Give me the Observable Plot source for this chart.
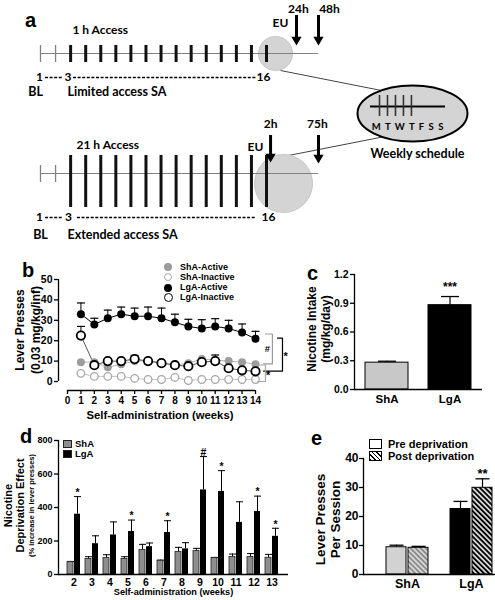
<!DOCTYPE html>
<html>
<head>
<meta charset="utf-8">
<script src="https://cdn.jsdelivr.net/npm/d3@7"></script>
<script src="https://cdn.jsdelivr.net/npm/@observablehq/plot@0.6"></script>
<style>
  html, body { margin: 0; padding: 0; background: #fff; }
  #fig { position: relative; width: 495px; height: 600px; overflow: hidden; background: #fff;
         font-family: "Liberation Sans", Arial, sans-serif; font-weight: bold; color: #000; }
  #fig .abs { position: absolute; white-space: nowrap; }
</style>
</head>
<body>
<div id="fig"></div>
<script>
// ======================= DATA =======================
// Panel a (schematic)
const aSessionBaseline = [1, 2];
const aSessionSA = [3, 4, 5, 6, 7, 8, 9, 10, 11, 12, 13, 14, 15, 16];
const aSessionLabels = ["1", "3", "16"];
const aAccessLabels = ["1 h Access", "21 h Access"];
const aProgramLabels = ["Limited access SA", "Extended access SA"];
const aBaselineLabel = "BL";
const aEULabel = "EU";
const aArrowLabels = [["24h", "48h"], ["2h", "75h"]];
const aWeekDays = "M T W T F S S";
const aWeekDayTicks = [1, 2, 3, 4, 5];
const aWeeklyTitle = "Weekly schedule";

// Panel b
const bWeeks = [1, 2, 3, 4, 5, 6, 7, 8, 9, 10, 11, 12, 13, 14];
const bShaActive     = [9.5, 9.5, 7, 8.5, 10, 10, 9.5, 8, 9, 11, 10.5, 10, 9.5, 8.5];
const bShaInactive   = [4, 2.5, 2.5, 2.5, 1.5, 1, 1, 2, 0.5, 1, 1, 1, 1, 1];
const bLgaActive     = [33, 28, 31, 33, 32, 32, 31, 29, 27, 26, 27, 26, 24, 21];
const bLgaActiveUp   = [38.5, 31, 35, 36.5, 36, 36.5, 36, 33, 30.5, 30.3, 30.8, 30, 28.2, 24.6];
const bLgaInactive   = [22.5, 8, 10, 10, 11, 10, 9, 8, 7.5, 9.5, 10, 6.5, 5.5, 5];
const bLgaInactiveUp = [27, 9.5, 11, 11, 12.8, 11.3, 10, 9, 8.5, 10.5, 13, 7.5, 6.5, 6];
const bSeries = ["ShA-Active", "ShA-Inactive", "LgA-Active", "LgA-Inactive"];
const bXTicks = [0, 1, 2, 3, 4, 5, 6, 7, 8, 9, 10, 11, 12, 13, 14];
const bYTicks = [0, 10, 20, 30, 40, 50];
const bBracketLabels = ["#", "*", "*"];
const bBracketTop    = [23.3, 21.3, 8.1];
const bBracketBottom = [8.6, 5.1, 0];

// Panel c
const cGroups = ["ShA", "LgA"];
const cMean  = [0.28, 0.88];
const cUpper = [0.295, 0.97];
const cSig   = ["", "***"];
const cYTicks = [0, 0.3, 0.6, 0.9, 1.2];

// Panel d
const dWeeks = ["2", "3", "4", "5", "6", "7", "8", "9", "10", "11", "12", "13"];
const dSha   = [74, 92, 98, 93, 146, 82, 135, 140, 98, 105, 105, 100];
const dShaUp = [78, 106, 118, 106, 180, 86, 162, 156, 102, 122, 125, 120];
const dLga   = [360, 184, 236, 257, 166, 251, 153, 505, 496, 311, 376, 228];
const dLgaUp = [465, 231, 314, 325, 188, 321, 190, 704, 620, 434, 468, 276];
const dSig   = ["*", "", "", "*", "", "*", "", "#", "*", "", "*", "*"];
const dYTicks = [0, 200, 400, 600, 800];
const dLegend = ["ShA", "LgA"];

// Panel e
const eGroups = ["ShA", "LgA"];
const ePre    = [9.4, 22.6];
const ePreUp  = [10.1, 25.2];
const ePost   = [9.2, 29.9];
const ePostUp = [9.7, 33];
const ePostSig = ["", "**"];
const eYTicks = [0, 10, 20, 30, 40];
const eLegend = ["Pre deprivation", "Post deprivation"];

// ======================= HELPERS =======================
const fig = document.getElementById("fig");
const FONT = '"Liberation Sans", Arial, Helvetica, sans-serif';
const baseStyle = {fontFamily: FONT, fontWeight: "bold", background: "transparent", overflow: "visible", color: "#000"};
function place(node, left, top) {
  node.style.position = "absolute"; node.style.left = left + "px"; node.style.top = top + "px";
  fig.appendChild(node); return node;
}
function htmlText(text, left, top, size, extra = {}) {
  const d = document.createElement("div");
  d.className = "abs"; d.textContent = text;
  Object.assign(d.style, {left: left + "px", top: top + "px", fontSize: size + "px", lineHeight: size + "px"}, extra);
  fig.appendChild(d); return d;
}
function htmlBox(left, top, w, h, css) {
  const d = document.createElement("div"); d.className = "abs";
  Object.assign(d.style, {left: left + "px", top: top + "px", width: w + "px", height: h + "px", boxSizing: "border-box"}, css);
  fig.appendChild(d); return d;
}
// horizontal error-bar cap
const capSymbol = {draw(ctx, size) { const r = Math.sqrt(size / Math.PI); ctx.moveTo(-r, 0); ctx.lineTo(r, 0); }};
// ellipse symbol (aspect ry/rx)
const ELLIPSE_ASPECT = 0.51;
const ellipseSymbol = {draw(ctx, size) {
  const rx = Math.sqrt(size / Math.PI), ry = rx * ELLIPSE_ASPECT, k = 0.5523;
  ctx.moveTo(rx, 0);
  ctx.bezierCurveTo(rx, k * ry, k * rx, ry, 0, ry);
  ctx.bezierCurveTo(-k * rx, ry, -rx, k * ry, -rx, 0);
  ctx.bezierCurveTo(-rx, -k * ry, -k * rx, -ry, 0, -ry);
  ctx.bezierCurveTo(k * rx, -ry, rx, -k * ry, rx, 0);
  ctx.closePath();
}};

// ======================= PANEL A =======================
// schematic layout: x in session units, y in schematic rows (px-like)
const rowsIdx = [0, 1];
const aLineY = [53, 173];
const aLineEnd = 19.45;
const aThin = [[45, 62], [165, 182]];
const aThick = [[45, 62], [155, 207]];
const aCircles = [{x: 16.6, y: 53, r: 17}, {x: 17.13, y: 183, r: 29}];
const aArrowX = [[17.99, 19.45], [16.27, 19.45]];
const aArrowTop = [15, 135];
const aArrowTip = [[45, 45], [162, 163]];
const aArrowLabelX = [[18.12, 20.18], [16.27, 19.38]];
const aArrowLabelY = [9, 124];
const aEUX = [16.93, 15.27], aEUY = [23, 147];
const aAccessX = [3.12, 3.39], aAccessY = [30, 145];
const aNumX = [[0.93, 2.83, 15.8], [0.93, 2.86, 16.13]], aNumY = [77, 217];
const aDash = [[[1.33, 2.53], [3.19, 15.34]], [[1.33, 2.53], [3.45, 15.3]]];
const aBLX = [0.67, 1.0], aProgX = [2.79, 2.79], aProgY = [91, 234];
const aWeekly = {x: 25.69, y: 113, r: 55, lineX1: 22.9, lineX2: 27.88, lineY: 106,
                 tickX0: 23.5, tickStep: 0.53, tickY1: 95, tickY2: 116, daysX: 25.4, daysY: 126,
                 titleX: 26.02, titleY: 153};
const aConnectors = [{x1: 16.93, y1: 70, x2: 24.3, y2: 92}, {x1: 17.46, y1: 155, x2: 24.2, y2: 135}];
const HEAD_R = 3.8, HEAD_OFF = 5.9;

const thinTicks = rowsIdx.flatMap(i => aSessionBaseline.map(s => ({s, y1: aThin[i][0], y2: aThin[i][1]})));
const thickTicks = rowsIdx.flatMap(i => aSessionSA.map(s => ({s, y1: aThick[i][0], y2: aThick[i][1]})));
const arrows = rowsIdx.flatMap(i => [0, 1].map(j => ({x: aArrowX[i][j], top: aArrowTop[i], tip: aArrowTip[i][j],
  label: aArrowLabels[i][j], lx: aArrowLabelX[i][j], ly: aArrowLabelY[i]})));
const numLabels = rowsIdx.flatMap(i => aSessionLabels.map((t, k) => ({text: t, x: aNumX[i][k], y: aNumY[i]})));
const dashSegs = rowsIdx.flatMap(i => aDash[i].map(([a, b]) => ({x1: a, x2: b, y: aNumY[i]})));
const dayTicks = aWeekDayTicks.map((d, k) => ({x: aWeekly.tickX0 + k * aWeekly.tickStep}));
const aFont = {fontFamily: "Lato", fontWeight: "bold"};

const A = Plot.plot({
  width: 495, height: 250, margin: 0,
  x: {domain: [1, 16], range: [40, 266], axis: null},
  y: {domain: [0, 250], range: [0, 250], axis: null},
  r: {type: "identity"},
  style: baseStyle,
  marks: [
    Plot.link(aConnectors, {x1: "x1", y1: "y1", x2: "x2", y2: "y2", stroke: "#444", strokeWidth: 1}),
    Plot.dot(aCircles, {x: "x", y: "y", r: "r", fill: "#d4d4d4", stroke: "#c6c6c6", strokeWidth: 1}),
    Plot.ruleY(aLineY, {y: d => d, x1: 1, x2: aLineEnd, stroke: "#808080", strokeWidth: 1.2}),
    Plot.ruleX(thinTicks, {x: "s", y1: "y1", y2: "y2", stroke: "#808080", strokeWidth: 1.3}),
    Plot.ruleX(thickTicks, {x: "s", y1: "y1", y2: "y2", stroke: "#111", strokeWidth: 3}),
    Plot.ruleX(arrows, {x: "x", y1: "top", y2: d => d.tip - 7, stroke: "#000", strokeWidth: 3}),
    Plot.dot(arrows, {x: "x", y: d => d.tip - HEAD_OFF, symbol: "triangle", r: HEAD_R, rotate: 180, fill: "#000"}),
    Plot.text(arrows, {x: "lx", y: "ly", text: "label", fontSize: 12, ...aFont}),
    Plot.text(rowsIdx, {x: i => aEUX[i], y: i => aEUY[i], text: () => aEULabel, fontSize: 12, ...aFont}),
    Plot.text(rowsIdx, {x: i => aAccessX[i], y: i => aAccessY[i], text: i => aAccessLabels[i], textAnchor: "start", fontSize: 12, ...aFont}),
    Plot.text(numLabels, {x: "x", y: "y", text: "text", fontSize: 12, ...aFont}),
    Plot.ruleY(dashSegs, {y: "y", x1: "x1", x2: "x2", stroke: "#000", strokeWidth: 1.4, strokeDasharray: "3,1.6"}),
    Plot.text(rowsIdx, {x: i => aBLX[i], y: i => aProgY[i], text: () => aBaselineLabel, fontSize: 12.5, ...aFont}),
    Plot.text(rowsIdx, {x: i => aProgX[i], y: i => aProgY[i], text: i => aProgramLabels[i], textAnchor: "start", fontSize: 12.5, ...aFont}),
    // weekly schedule
    Plot.dot([aWeekly], {x: "x", y: "y", r: "r", symbol: ellipseSymbol, fill: "#d4d4d4", stroke: "#000", strokeWidth: 2}),
    Plot.ruleY([aWeekly], {y: "lineY", x1: "lineX1", x2: "lineX2", stroke: "#000", strokeWidth: 2}),
    Plot.ruleX(dayTicks, {x: "x", y1: aWeekly.tickY1, y2: aWeekly.tickY2, stroke: "#333", strokeWidth: 1.6}),
    Plot.text([aWeekDays], {x: aWeekly.daysX, y: aWeekly.daysY, fontSize: 9.5, ...aFont}),
    Plot.text([aWeeklyTitle], {x: aWeekly.titleX, y: aWeekly.titleY, fontSize: 12.5, ...aFont})
  ]
});
d3.select(A).selectAll("text").filter(function() { return this.textContent === aWeekDays; })
  .style("letter-spacing", "1.1px");
place(A, 0, 0);

// ======================= PANEL B =======================
const B_XMIN = -0.67, B_YMIN = -4.4;
const bRows = bWeeks.map((w, i) => ({week: w, shaA: bShaActive[i], shaI: bShaInactive[i],
  lgaA: bLgaActive[i], lgaAUp: bLgaActiveUp[i], lgaI: bLgaInactive[i], lgaIUp: bLgaInactiveUp[i]}));
// bracket geometry (x in weeks)
const bBracketX = [15.26, 16.01, 14.74];
const bBracketArmTop = [14.74, 15.64, 14.15];
const bBracketArmBottom = [14.6, 14.6, 14.15];
const bBracketLabelX = [14.88, 16.25, 14.95];
const bBracketColor = ["#9a9a9a", "#000", "#a8a8a8"];
const bracketMarks = bBracketLabels.flatMap((lab, i) => {
  const pts = [[bBracketArmTop[i], bBracketTop[i]], [bBracketX[i], bBracketTop[i]],
               [bBracketX[i], bBracketBottom[i]], [bBracketArmBottom[i], bBracketBottom[i]]];
  return [
    Plot.line(pts, {x: d => d[0], y: d => d[1], stroke: bBracketColor[i], strokeWidth: 1.2}),
    Plot.text([lab], {x: bBracketLabelX[i], y: (bBracketTop[i] + bBracketBottom[i]) / 2,
      fontSize: lab === "#" ? 9.5 : 11, dy: lab === "#" ? 0 : 2, fill: "black"})
  ];
});
const B = Plot.plot({
  width: 300, height: 175, marginLeft: 58, marginRight: 45, marginTop: 29, marginBottom: 35,
  x: {domain: [B_XMIN, 14]},
  y: {domain: [B_YMIN, 50]},
  style: baseStyle,
  marks: [
    Plot.ruleX([B_XMIN], {y1: 0, y2: 50, strokeWidth: 1.3}),
    Plot.ruleY([B_YMIN], {x1: 0, x2: 14, strokeWidth: 1.3}),
    Plot.axisY({ticks: bYTicks, tickSize: 4, tickPadding: 2, fontSize: 10.5, label: null, strokeWidth: 1.3}),
    Plot.axisX({ticks: bXTicks, tickSize: 4, tickPadding: 2, fontSize: 10, label: null, strokeWidth: 1.3}),
    Plot.line(bRows, {x: "week", y: "shaI", stroke: "#c4c4c4", strokeWidth: 1}),
    Plot.line(bRows, {x: "week", y: "shaA", stroke: "#b4b4b4", strokeWidth: 1}),
    Plot.line(bRows, {x: "week", y: "lgaI", stroke: "#555", strokeWidth: 1}),
    Plot.line(bRows, {x: "week", y: "lgaA", stroke: "#000", strokeWidth: 1}),
    Plot.ruleX(bRows, {x: "week", y1: "lgaA", y2: "lgaAUp", stroke: "#000", strokeWidth: 1}),
    Plot.dot(bRows, {x: "week", y: "lgaAUp", symbol: capSymbol, r: 4, stroke: "#000", fill: "none", strokeWidth: 1.2}),
    Plot.ruleX(bRows, {x: "week", y1: "lgaI", y2: "lgaIUp", stroke: "#000", strokeWidth: 1}),
    Plot.dot(bRows, {x: "week", y: "lgaIUp", symbol: capSymbol, r: 4, stroke: "#000", fill: "none", strokeWidth: 1.2}),
    Plot.dot(bRows, {x: "week", y: "shaI", r: 3.8, fill: "#fff", stroke: "#a8a8a8", strokeWidth: 1.3}),
    Plot.dot(bRows, {x: "week", y: "shaA", r: 4, fill: "#9c9c9c"}),
    Plot.dot(bRows, {x: "week", y: "lgaI", r: 4.2, fill: "#fff", stroke: "#000", strokeWidth: 1.8}),
    Plot.dot(bRows, {x: "week", y: "lgaA", r: 4, fill: "#000"}),
    ...bracketMarks,
    Plot.text(["Self-administration (weeks)"], {frameAnchor: "bottom", lineAnchor: "middle", textAnchor: "middle", dx: 3, dy: 25, fontSize: 11.3}),
    Plot.text(["Lever Presses"], {frameAnchor: "left", textAnchor: "middle", lineAnchor: "middle", dx: -38, dy: -5, rotate: -90, fontSize: 12}),
    Plot.text(["(0.03 mg/kg/inf)"], {frameAnchor: "left", textAnchor: "middle", lineAnchor: "middle", dx: -22, dy: -5, rotate: -90, fontSize: 12})
  ]
});
place(B, 0, 250);

// ======================= PANEL C =======================
const cRows = cGroups.map((g, i) => ({group: g, mean: cMean[i], upper: cUpper[i], sig: cSig[i]}));
const cFill = {ShA: "#c8c8c8", LgA: "#000"};
const C = Plot.plot({
  width: 195, height: 175, marginLeft: 54, marginRight: 13, marginTop: 24, marginBottom: 36,
  x: {type: "band", domain: cGroups, range: [65, 171], paddingInner: 0.3175, paddingOuter: 0},
  y: {domain: [0, 1.2]},
  color: {type: "identity"},
  style: baseStyle,
  marks: [
    Plot.ruleX(cRows, {x: "group", y1: "mean", y2: "upper", stroke: "#000", strokeWidth: 1.2}),
    Plot.dot(cRows, {x: "group", y: "upper", symbol: capSymbol, r: 9, stroke: "#000", fill: "none", strokeWidth: 1.3}),
    Plot.barY(cRows, {x: "group", y: "mean", fill: d => cFill[d.group], stroke: "#000", strokeWidth: 1}),
    Plot.text(cRows, {x: "group", y: "upper", text: "sig", dy: -9, fontSize: 12, fill: "black"}),
    Plot.frame({anchor: "left", strokeWidth: 1.3}),
    Plot.ruleY([0], {strokeWidth: 1.3}),
    Plot.axisY({ticks: cYTicks, tickFormat: d3.format(".1f"), tickSize: 4, tickPadding: 2, fontSize: 10.5, label: null, strokeWidth: 1.3}),
    Plot.axisX({tickSize: 0, tickPadding: 5, fontSize: 11.5, label: null}),
    Plot.text(["Nicotine Intake"], {frameAnchor: "left", textAnchor: "middle", lineAnchor: "middle", dx: -42, dy: -3, rotate: -90, fontSize: 12}),
    Plot.text(["(mg/kg/day)"], {frameAnchor: "left", textAnchor: "middle", lineAnchor: "middle", dx: -28, dy: -3, rotate: -90, fontSize: 12})
  ]
});
place(C, 300, 250);

// ======================= PANEL D =======================
const dRows = dWeeks.map((w, i) => ({week: w, sha: dSha[i], shaUp: dShaUp[i], lga: dLga[i], lgaUp: dLgaUp[i], sig: dSig[i]}));
const D_HALF = 3.5;
const D = Plot.plot({
  width: 300, height: 175, marginLeft: 58, marginRight: 12, marginTop: 15, marginBottom: 26,
  x: {type: "band", domain: dWeeks, range: [61.5, 283.5], paddingInner: 0.26, paddingOuter: 0},
  y: {domain: [0, 800]},
  style: baseStyle,
  marks: [
    Plot.ruleX(dRows, {x: "week", y1: "sha", y2: "shaUp", dx: -D_HALF, stroke: "#000", strokeWidth: 1}),
    Plot.dot(dRows, {x: "week", y: "shaUp", dx: -D_HALF, symbol: capSymbol, r: 3.5, stroke: "#000", fill: "none", strokeWidth: 1}),
    Plot.ruleX(dRows, {x: "week", y1: "lga", y2: "lgaUp", dx: D_HALF, stroke: "#000", strokeWidth: 1}),
    Plot.dot(dRows, {x: "week", y: "lgaUp", dx: D_HALF, symbol: capSymbol, r: 3.5, stroke: "#000", fill: "none", strokeWidth: 1}),
    Plot.barY(dRows, {x: "week", y: "sha", insetRight: 2 * D_HALF, fill: "#8e8e8e", stroke: "#222", strokeWidth: 0.8}),
    Plot.barY(dRows, {x: "week", y: "lga", insetLeft: 2 * D_HALF, fill: "#000"}),
    Plot.text(dRows, {x: "week", y: "lgaUp", text: "sig", dx: D_HALF, dy: -4, fontSize: 10.5, fill: "black"}),
    Plot.frame({anchor: "left", strokeWidth: 1.3}),
    Plot.ruleY([0], {strokeWidth: 1.3}),
    Plot.axisY({ticks: dYTicks, tickSize: 4, tickPadding: 2, fontSize: 9, label: null, strokeWidth: 1.3}),
    Plot.axisX({tickSize: 0, tickPadding: 4, fontSize: 10.5, label: null}),
    Plot.text(["Self-administration (weeks)"], {frameAnchor: "bottom", lineAnchor: "middle", textAnchor: "middle", dy: 18, fontSize: 9.2}),
    Plot.text(["Nicotine"], {frameAnchor: "left", textAnchor: "middle", lineAnchor: "middle", dx: -50, dy: -2, rotate: -90, fontSize: 11}),
    Plot.text(["Deprivation Effect"], {frameAnchor: "left", textAnchor: "middle", lineAnchor: "middle", dx: -38, dy: -2, rotate: -90, fontSize: 11}),
    Plot.text(["(% increase in lever presses)"], {frameAnchor: "left", textAnchor: "middle", lineAnchor: "middle", dx: -27, dy: -2, rotate: -90, fontSize: 7.5})
  ]
});
place(D, 0, 425);

// ======================= PANEL E =======================
const eRows = eGroups.map((g, i) => ({group: g, pre: ePre[i], preUp: ePreUp[i], post: ePost[i], postUp: ePostUp[i], sig: ePostSig[i]}));
const ePreFill = {ShA: "#d2d2d2", LgA: "#000"};
const ePostFill = {ShA: "url(#hatchGray)", LgA: "url(#hatchBlack)"};
const E_OFF = 11;
const E = Plot.plot({
  width: 195, height: 175, marginLeft: 63, marginRight: 0, marginTop: 33, marginBottom: 26,
  x: {type: "band", domain: eGroups, range: [86, 192], paddingInner: 0.344, paddingOuter: 0},
  y: {domain: [0, 40]},
  color: {type: "identity"},
  style: baseStyle,
  marks: [
    Plot.ruleX(eRows, {x: "group", y1: "pre", y2: "preUp", dx: -E_OFF, stroke: "#000", strokeWidth: 1.2}),
    Plot.dot(eRows, {x: "group", y: "preUp", dx: -E_OFF, symbol: capSymbol, r: 7, stroke: "#000", fill: "none", strokeWidth: 1.3}),
    Plot.ruleX(eRows, {x: "group", y1: "post", y2: "postUp", dx: E_OFF, stroke: "#000", strokeWidth: 1.2}),
    Plot.dot(eRows, {x: "group", y: "postUp", dx: E_OFF, symbol: capSymbol, r: 7, stroke: "#000", fill: "none", strokeWidth: 1.3}),
    Plot.barY(eRows, {x: "group", y: "pre", insetRight: 22, fill: d => ePreFill[d.group], stroke: "#000", strokeWidth: 1}),
    Plot.barY(eRows, {x: "group", y: "post", insetLeft: 22, fill: d => ePostFill[d.group], stroke: "#000", strokeWidth: 1}),
    Plot.text(eRows, {x: "group", y: "postUp", text: "sig", dx: E_OFF, dy: -5, fontSize: 13, fill: "black"}),
    Plot.frame({anchor: "left", strokeWidth: 1.3}),
    Plot.ruleY([0], {strokeWidth: 1.3}),
    Plot.axisY({ticks: eYTicks, tickSize: 4, tickPadding: 1, fontSize: 12, label: null, strokeWidth: 1.3}),
    Plot.axisX({tickSize: 0, tickPadding: 5, fontSize: 12.5, label: null}),
    Plot.text(["Lever Presses"], {frameAnchor: "left", textAnchor: "middle", lineAnchor: "middle", dx: -43, dy: 3, rotate: -90, fontSize: 13.5}),
    Plot.text(["Per Session"], {frameAnchor: "left", textAnchor: "middle", lineAnchor: "middle", dx: -28, dy: 3, rotate: -90, fontSize: 13.5})
  ]
});
(function addPatterns(svg) {
  const defs = d3.select(svg).insert("defs", ":first-child");
  const mk = (id, bg, fg, w, p) => {
    const pat = defs.append("pattern").attr("id", id).attr("patternUnits", "userSpaceOnUse")
      .attr("width", p).attr("height", p).attr("patternTransform", "rotate(-45)");
    pat.append("rect").attr("width", p).attr("height", p).attr("fill", bg);
    pat.append("line").attr("x1", p / 2).attr("y1", 0).attr("x2", p / 2).attr("y2", p).attr("stroke", fg).attr("stroke-width", w);
  };
  mk("hatchGray", "#d6d6d6", "#5a5a5a", 1.1, 3.6);
  mk("hatchBlack", "#000", "#fff", 1.5, 3.6);
})(E);
place(E, 300, 425);

// ======================= HTML overlays: panel letters & legends =======================
const letters = [["a", 25, 10], ["b", 22, 260], ["c", 307, 263], ["d", 20, 426], ["e", 311, 428]];
letters.forEach(([t, x, y]) => htmlText(t, x, y, 20));

// legend b
const bLegendMarker = [
  {bg: "#9c9c9c", border: "none", size: 8},
  {bg: "#fff", border: "1.3px solid #a8a8a8", size: 8},
  {bg: "#000", border: "none", size: 8},
  {bg: "#fff", border: "1.8px solid #000", size: 9}
];
bSeries.forEach((s, i) => {
  const yc = 267 + i * 10.3, m = bLegendMarker[i];
  htmlBox(168 - m.size / 2, yc - m.size / 2, m.size, m.size, {background: m.bg, border: m.border, borderRadius: "50%"});
  htmlText(s, 180, yc - 4.5, 9);
});

// legend d
const dLegendFill = ["#8e8e8e", "#000"];
dLegend.forEach((s, i) => {
  const yc = 443.5 + i * 10;
  htmlBox(63, yc - 4, 9, 8, {background: dLegendFill[i], border: "1px solid #222"});
  htmlText(s, 75, yc - 4.75, 9.5);
});

// legend e
const eLegendBg = ["#fff", "repeating-linear-gradient(45deg, #000 0 1.1px, #fff 1.1px 3.2px)"];
eLegend.forEach((s, i) => {
  const yc = 444 + i * 12;
  htmlBox(369, yc - 5, 13, 10, {background: eLegendBg[i], border: "1.2px solid #000"});
  htmlText(s, 388, yc - 5.5, 11);
});
</script>
</body>
</html>
